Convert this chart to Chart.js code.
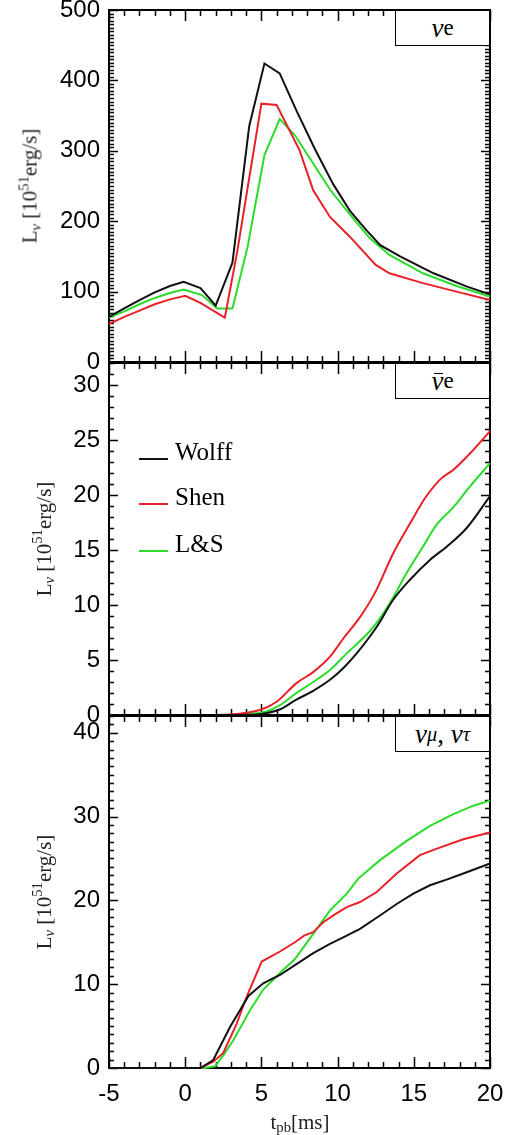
<!DOCTYPE html>
<html>
<head>
<meta charset="utf-8">
<script src="https://cdn.jsdelivr.net/npm/chart.js@4.4.0/dist/chart.umd.min.js"></script>
<style>
  body { margin: 0; background: #fff; }
  #wrap { position: relative; width: 507px; height: 1135px; overflow: hidden; }
  canvas { position: absolute; left: 0; }
  .ytitle, .xtitle, .tag, .legtxt {
    position: absolute; font-family: 'Liberation Serif', 'Times New Roman', serif; color: #000;
    white-space: nowrap; line-height: 1;
  }
  .ytitle { font-size: 21px; color: #222; transform: translate(-50%, -50%) rotate(-90deg); }
  .xtitle { font-size: 21px; color: #222; transform: translate(-50%, -50%); }
  sub { font-size: 0.7em; vertical-align: -0.25em; line-height: 0; }
  sup { font-size: 0.7em; vertical-align: 0.55em; line-height: 0; }
  .tag {
    left: 395px; width: 95px; height: 36px; box-sizing: border-box; border: 1.5px solid #000;
    background: #fff; font-size: 27px; display: flex; align-items: center; justify-content: center;
  }
  .tag .lo { font-size: 0.85em; vertical-align: -0.15em; }
  .tag sub { font-size: 0.75em; vertical-align: -0.3em; }
  .bar { position: relative; display: inline-block; }
  .bar::before { content: ''; position: absolute; left: 3px; right: 0px; top: 0.22em; border-top: 1.6px solid #000; }
  .legline { position: absolute; left: 139px; width: 29px; height: 2px; }
  .legtxt { left: 175px; font-size: 25px; }
</style>
</head>
<body>
<div id="wrap">
  <canvas id="c1" width="507" height="380" style="top:0px"></canvas>
  <canvas id="c2" width="507" height="380" style="top:353px"></canvas>
  <canvas id="c3" width="507" height="429" style="top:706px"></canvas>

  <div class="ytitle" style="left:30px; top:186px">L<sub><i>ν</i></sub> [10<sup>51</sup>erg/s]</div>
  <div class="ytitle" style="left:44px; top:539px">L<sub><i>ν</i></sub> [10<sup>51</sup>erg/s]</div>
  <div class="ytitle" style="left:44px; top:892px">L<sub><i>ν</i></sub> [10<sup>51</sup>erg/s]</div>
  <div class="xtitle" style="left:300px; top:1122px">t<sub>pb</sub>[ms]</div>

  <div class="tag" style="top:10px"><i>ν</i><span class="lo">e</span></div>
  <div class="tag" style="top:363px"><i class="bar">ν</i><span class="lo">e</span></div>
  <div class="tag" style="top:716px"><i>ν</i><sub><i>μ</i></sub>,&nbsp;<i>ν</i><sub><i>τ</i></sub></div>

  <div class="legline" style="top:458px; background:#111"></div>
  <div class="legtxt" style="top:439px">Wolff</div>
  <div class="legline" style="top:503px; background:#e8212a"></div>
  <div class="legtxt" style="top:484px">Shen</div>
  <div class="legline" style="top:550px; background:#2bdc2b"></div>
  <div class="legtxt" style="top:531px">L&amp;S</div>
</div>

<script>
// time axis
const tMin = -5, tMax = 20;
const tTicks = [-5, 0, 5, 10, 15, 20];

// nu_e luminosity [1e51 erg/s]
const nueWolffT = [-5, -4, -3, -2, -1, -0.1, 1, 2, 3.1, 4.2, 5.2, 6.2, 7.3, 8.5, 9.7, 10.8, 11.9, 12.8, 14.1, 16.3, 18.5, 20];
const nueWolffL = [64, 76, 88, 99, 108, 114, 105, 80, 141, 335, 424, 410, 357, 303, 253, 215, 187, 166, 150, 126, 107, 96];
const nueShenT = [-5, -4, -3, -2, -1, 0, 1, 2.6, 3.4, 5.0, 6.0, 7.5, 8.4, 9.5, 10.8, 12.5, 13.4, 15.6, 17.8, 20];
const nueShenL = [54, 64, 73, 82, 89, 94, 84, 63, 155, 367, 365, 301, 244, 206, 178, 138, 126, 112, 100, 88];
const nueLST = [-5, -4, -3, -2, -1, -0.1, 1.1, 2.1, 3.1, 4.1, 5.2, 6.2, 7.2, 8.4, 9.5, 10.6, 12.1, 13.4, 15.6, 17.8, 20];
const nueLSL = [63, 72, 82, 91, 98, 103, 95, 76, 76, 164, 294, 345, 322, 282, 245, 215, 176, 152, 126, 108, 93];

// anti nu_e
const anueWolffT = [2, 3, 4, 5, 6.2, 7.3, 8.4, 9.5, 10.4, 11.25, 12.56, 13.66, 14.75, 16.06, 17.16, 18.47, 20];
const anueWolffL = [0, 0, 0.02, 0.1, 0.5, 1.4, 2.2, 3.2, 4.3, 5.6, 8.0, 10.5, 12.3, 14.1, 15.3, 17.0, 19.9];
const anueShenT = [2, 3, 4, 5, 6, 7.3, 8.4, 9.5, 10.4, 11.47, 12.45, 13.65, 14.75, 15.73, 16.72, 17.6, 18.7, 20];
const anueShenL = [0, 0.05, 0.2, 0.5, 1.2, 2.9, 3.9, 5.3, 7.0, 8.9, 11.1, 14.7, 17.4, 19.7, 21.4, 22.3, 23.8, 25.8];
const anueLST = [2, 3, 4, 5, 6.22, 7.3, 8.4, 9.5, 10.6, 12.35, 13.44, 14.53, 15.6, 16.5, 17.6, 18.7, 20];
const anueLSL = [0, 0.02, 0.1, 0.2, 0.9, 2.0, 3.0, 4.1, 5.6, 8.0, 10.2, 12.9, 15.3, 17.3, 18.9, 20.8, 22.9];

// nu_mu, nu_tau
const numuWolffT = [-5, 1, 1.84, 2.94, 4.15, 5.12, 6.22, 7.3, 8.4, 9.5, 10.6, 11.47, 12.78, 13.9, 14.97, 16.06, 17.2, 18.25, 20];
const numuWolffL = [0, 0, 0.95, 4.9, 8.6, 10.1, 11.1, 12.4, 13.7, 14.8, 15.8, 16.6, 18.2, 19.6, 20.8, 21.8, 22.5, 23.2, 24.4];
const numuShenT = [-5, 1, 1.84, 2.5, 3.38, 4.03, 5.02, 6.22, 7.2, 7.8, 8.4, 9.06, 9.8, 10.6, 11.47, 12.57, 13.88, 15.4, 16.7, 18.25, 20];
const numuShenL = [0, 0, 0.75, 1.8, 5.3, 8.5, 12.7, 13.9, 15.0, 15.8, 16.2, 17.4, 18.3, 19.2, 19.8, 21.0, 23.2, 25.4, 26.3, 27.3, 28.1];
const numuLST = [-5, 1.3, 1.96, 2.5, 3.16, 4.25, 5.1, 6.2, 7.2, 8.4, 9.5, 10.6, 11.36, 12.78, 14.53, 16.06, 17.6, 18.9, 20];
const numuLSL = [0, 0, 0.2, 1.5, 3.3, 6.9, 9.3, 11.3, 13.0, 16.0, 18.8, 20.8, 22.6, 24.8, 27.1, 28.9, 30.3, 31.3, 31.9];

const colWolff = '#111111';
const colShen = '#e8212a';
const colLS = '#2bdc2b';

const tickFont = { family: "'Liberation Sans', Arial, sans-serif", size: 24 };

function pts(ts, ls) {
    return ts.map((t, i) => ({ x: t, y: ls[i] }));
}

function line(label, ts, ls, color, smooth) {
    return {
        label: label,
        data: pts(ts, ls),
        borderColor: color,
        borderWidth: 2,
        pointRadius: 0,
        fill: false,
        clip: 4,
        cubicInterpolationMode: smooth ? 'monotone' : 'default',
        tension: 0
    };
}

// frame plus inward ticks on all four sides, IDL style
const frameTicks = {
    id: 'frameTicks',
    beforeDatasetsDraw(chart, args, opts) {
        const ctx = chart.ctx;
        const a = chart.chartArea;
        const x = chart.scales.x, y = chart.scales.y;
        ctx.save();
        ctx.strokeStyle = '#000';
        ctx.lineWidth = 1.5;
        ctx.beginPath();
        for (let v = tMin; v <= tMax; v += 1) {
            const px = Math.round(x.getPixelForValue(v)) + 0.5;
            const len = v % 5 === 0 ? 11 : 6;
            ctx.moveTo(px, a.bottom); ctx.lineTo(px, a.bottom - len);
            ctx.moveTo(px, a.top); ctx.lineTo(px, a.top + len);
        }
        for (let v = opts.min; v <= opts.max + 1e-9; v += opts.minor) {
            const py = Math.round(y.getPixelForValue(v)) + 0.5;
            const r = v / opts.major;
            const len = Math.abs(r - Math.round(r)) < 1e-6 ? 9 : 5;
            ctx.moveTo(a.left, py); ctx.lineTo(a.left + len, py);
            ctx.moveTo(a.right, py); ctx.lineTo(a.right - len, py);
        }
        ctx.stroke();
        ctx.lineWidth = 2;
        ctx.strokeRect(a.left, a.top, a.right - a.left, a.bottom - a.top);
        ctx.restore();
    }
};

function makePanel(id, datasets, yMax, yStep, yMinor, showX) {
    return new Chart(document.getElementById(id), {
        type: 'line',
        data: { datasets: datasets },
        plugins: [frameTicks],
        options: {
            responsive: false,
            animation: false,
            layout: { padding: { top: 10, right: 17, left: 0, bottom: showX ? 0 : 18 } },
            plugins: {
                legend: { display: false },
                tooltip: { enabled: false },
                frameTicks: { min: 0, max: yMax, major: yStep, minor: yMinor }
            },
            scales: {
                x: {
                    type: 'linear',
                    min: tMin,
                    max: tMax,
                    display: showX,
                    grid: { display: false, drawTicks: false },
                    border: { display: false },
                    afterBuildTicks: function(scale) {
                        scale.ticks = tTicks.map(v => ({ value: v }));
                    },
                    ticks: {
                        padding: 12,
                        color: '#000',
                        font: tickFont,
                        maxRotation: 0,
                        autoSkip: false
                    },
                    afterFit: function(scale) {
                        if (showX) {
                            scale.height = 67;
                        }
                        scale.paddingLeft = 0;
                        scale.paddingRight = 0;
                    }
                },
                y: {
                    type: 'linear',
                    min: 0,
                    max: yMax,
                    grid: { display: false, drawTicks: false },
                    border: { display: false },
                    ticks: {
                        stepSize: yStep,
                        includeBounds: false,
                        padding: 9,
                        color: '#000',
                        font: tickFont
                    },
                    afterFit: function(scale) {
                        scale.width = 109;
                        scale.paddingTop = 0;
                        scale.paddingBottom = 0;
                    }
                }
            }
        }
    });
}

makePanel('c1', [
    line('Wolff', nueWolffT, nueWolffL, colWolff, false),
    line('Shen', nueShenT, nueShenL, colShen, false),
    line('L&S', nueLST, nueLSL, colLS, false)
], 500, 100, 5, false);

makePanel('c2', [
    line('Wolff', anueWolffT, anueWolffL, colWolff, true),
    line('Shen', anueShenT, anueShenL, colShen, true),
    line('L&S', anueLST, anueLSL, colLS, true)
], 32, 5, 1, false);

makePanel('c3', [
    line('Wolff', numuWolffT, numuWolffL, colWolff, false),
    line('Shen', numuShenT, numuShenL, colShen, false),
    line('L&S', numuLST, numuLSL, colLS, false)
], 42, 10, 1, true);
</script>
</body>
</html>
